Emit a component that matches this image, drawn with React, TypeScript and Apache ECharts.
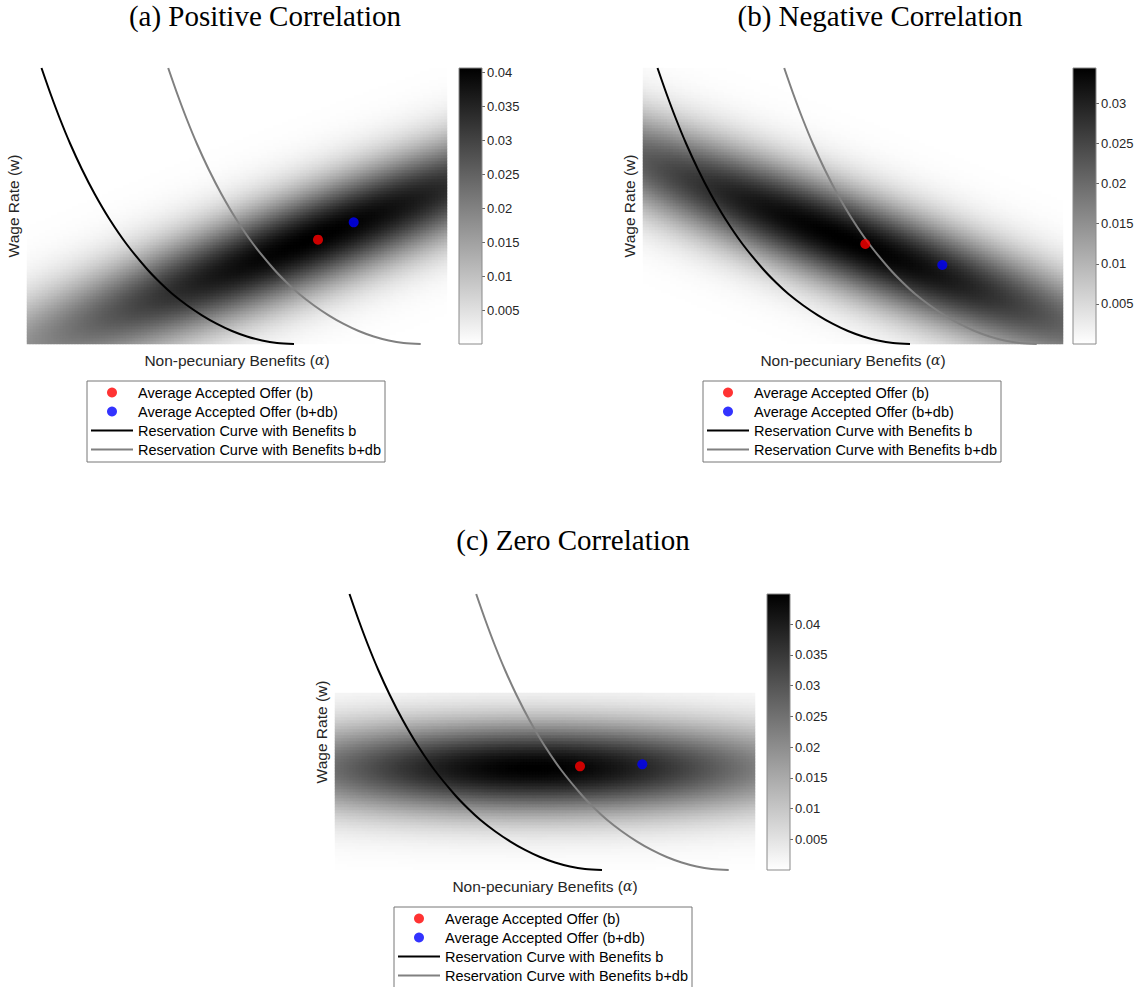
import { useEffect, useRef } from 'react';
import * as echarts from 'echarts';

// Panel captions and shared legend entries
const panelTitles = ['(a) Positive Correlation', '(b) Negative Correlation', '(c) Zero Correlation'];
const offerNameB = 'Average Accepted Offer (b)';
const offerNameBdb = 'Average Accepted Offer (b+db)';
const curveNameB = 'Reservation Curve with Benefits b';
const curveNameBdb = 'Reservation Curve with Benefits b+db';

// Axis extents: non-pecuniary benefits (alpha) and wage rate (w)
const alphaRange = [0, 42];
const wageRange = [0, 27.6];

// Offer density (bivariate normal) for each panel: a, b, c
const densityPeak = [0.0407, 0.0344, 0.0449];
const meanAlpha = [28.5, 20.5, 20];
const meanWage = [10.5, 10.4, 10.2];
const sdAlpha = [22, 22, 19];
const sdWage = [8.955, 9.1, 3.2];
const corr = [0.9157, -0.92, 0];
// highest wage covered by the density image in each panel
const imageTopWage = [27.6, 27.6, 17.7];

// Reservation curve with benefits b, points (alpha, w)
const curveB = [
  [1.45, 27.6], [2.36, 25], [3.3, 22.5], [4.33, 20], [5.48, 17.5], [6.77, 15],
  [8.24, 12.5], [9.95, 10], [12.0, 7.5], [13.3, 6.15], [14.55, 5.0], [16.0, 3.88],
  [17.5, 2.87], [19.0, 2.01], [20.5, 1.3], [22.0, 0.75], [23.5, 0.35], [25.0, 0.1],
  [26.7, 0],
];
// Reservation curve with benefits b+db
const curveBdb = [
  [14.12, 27.6], [15.03, 25], [15.97, 22.5], [17.0, 20], [18.15, 17.5], [19.44, 15],
  [20.91, 12.5], [22.62, 10], [24.67, 7.5], [25.97, 6.15], [27.22, 5.0], [28.67, 3.88],
  [30.17, 2.87], [31.67, 2.01], [33.17, 1.3], [34.67, 0.75], [36.17, 0.35], [37.67, 0.1],
  [39.37, 0],
];

// Average accepted offers per panel (alpha, w)
const offerB = [[29.1, 10.43], [22.23, 10.0], [24.5, 10.37]];
const offerBdb = [[32.67, 12.17], [29.93, 7.9], [30.73, 10.57]];

// Colorbar tick step
const colorbarStep = 0.005;

// ---- layout (pixels) ----
const PLOT_W = 420;
const PLOT_H = 276;
const NX = 140; // density image columns
const NY = 92; // density image rows
const plotPos = [
  { left: 27, top: 68 },
  { left: 643, top: 68 },
  { left: 335, top: 594 },
];
const cbarPos = [
  { left: 459, top: 68 },
  { left: 1073, top: 68 },
  { left: 767, top: 594 },
];
const titlePos = [
  { x: 265, y: 1 },
  { x: 880, y: 1 },
  { x: 573, y: 525 },
];
const legendPos = [
  { left: 87, top: 381 },
  { left: 703, top: 381 },
  { left: 394, top: 907 },
];

const SANS = 'Liberation Sans, Arial, Helvetica, sans-serif';
const AXIS_TEXT = '#262626';
const LINE_ICON = 'path://M0,0 L42,0 L42,2 L0,2 Z';

function densityCells(p: number) {
  const cells: number[][] = [];
  const cw = (alphaRange[1] - alphaRange[0]) / NX;
  const ch = (wageRange[1] - wageRange[0]) / NY;
  const r = corr[p];
  for (let j = 0; j < NY; j++) {
    const w = wageRange[0] + (j + 0.5) * ch;
    if (w > imageTopWage[p]) break;
    for (let i = 0; i < NX; i++) {
      const a = alphaRange[0] + (i + 0.5) * cw;
      const za = (a - meanAlpha[p]) / sdAlpha[p];
      const zw = (w - meanWage[p]) / sdWage[p];
      const q = (za * za - 2 * r * za * zw + zw * zw) / (1 - r * r);
      cells.push([i, j, densityPeak[p] * Math.exp(-q / 2)]);
    }
  }
  return cells;
}

function buildOption() {
  const idxX = Array.from({ length: NX }, (_, i) => i);
  const idxY = Array.from({ length: NY }, (_, i) => i);

  const grid: any[] = [];
  const xAxis: any[] = [];
  const yAxis: any[] = [];
  const series: any[] = [];
  const visualMap: any[] = [];

  // plot grids
  for (let p = 0; p < 3; p++) {
    grid.push({ left: plotPos[p].left, top: plotPos[p].top, width: PLOT_W, height: PLOT_H });
  }
  // colorbar grids
  for (let p = 0; p < 3; p++) {
    grid.push({
      left: cbarPos[p].left,
      top: cbarPos[p].top,
      width: 23,
      height: PLOT_H,
      show: true,
      borderColor: '#8a8a8a',
      borderWidth: 1,
      z: 5,
    });
  }

  const hidden = {
    axisLine: { show: false },
    axisTick: { show: false },
    axisLabel: { show: false },
    splitLine: { show: false },
  };

  for (let p = 0; p < 3; p++) {
    // category axes for the density image
    xAxis.push({ type: 'category', gridIndex: p, position: 'bottom', data: idxX, show: false });
    yAxis.push({ type: 'category', gridIndex: p, position: 'left', data: idxY, show: false });
    // value axes for curves and offers
    xAxis.push({
      type: 'value',
      gridIndex: p,
      position: 'bottom',
      min: alphaRange[0],
      max: alphaRange[1],
      ...hidden,
      name: 'Non-pecuniary Benefits ({a|α})',
      nameLocation: 'middle',
      nameGap: 8,
      nameTextStyle: {
        fontFamily: SANS,
        fontSize: 15.5,
        color: AXIS_TEXT,
        rich: {
          a: { fontFamily: 'DejaVu Serif', fontStyle: 'italic', fontSize: 14, color: AXIS_TEXT },
        },
      },
    });
    yAxis.push({
      type: 'value',
      gridIndex: p,
      position: 'left',
      min: wageRange[0],
      max: wageRange[1],
      ...hidden,
      name: 'Wage Rate (w)',
      nameLocation: 'middle',
      nameRotate: 90,
      nameGap: 6,
      nameTextStyle: { fontFamily: SANS, fontSize: 15.5, color: AXIS_TEXT },
    });
  }

  for (let p = 0; p < 3; p++) {
    xAxis.push({ type: 'category', gridIndex: 3 + p, data: ['density'], show: false });
    yAxis.push({
      type: 'value',
      gridIndex: 3 + p,
      min: 0,
      max: densityPeak[p],
      interval: colorbarStep,
      position: 'right',
      axisLine: { show: false },
      splitLine: { show: false },
      axisTick: { show: true, inside: false, length: 3, lineStyle: { color: '#666', width: 1 } },
      axisLabel: {
        margin: 5,
        fontSize: 13,
        fontFamily: SANS,
        color: AXIS_TEXT,
        showMinLabel: false,
        showMaxLabel: false,
        formatter: (v: number) => {
          const k = v / colorbarStep;
          if (v <= 0 || Math.abs(k - Math.round(k)) > 1e-6) return '';
          return String(+v.toFixed(3));
        },
      },
    });
  }

  for (let p = 0; p < 3; p++) {
    const heatIndex = series.length;
    series.push({
      type: 'heatmap',
      xAxisIndex: 2 * p,
      yAxisIndex: 2 * p,
      data: densityCells(p),
      progressive: 0,
      silent: true,
      emphasis: { disabled: true },
      itemStyle: { borderWidth: 0 },
      z: 1,
    });
    visualMap.push({
      type: 'continuous',
      show: false,
      seriesIndex: heatIndex,
      dimension: 2,
      min: 0,
      max: densityPeak[p],
      inRange: { color: ['#ffffff', '#000000'] },
    });
    series.push({
      type: 'line',
      name: curveNameB,
      xAxisIndex: 2 * p + 1,
      yAxisIndex: 2 * p + 1,
      data: curveB,
      symbol: 'none',
      smooth: 0.3,
      clip: true,
      silent: true,
      itemStyle: { color: '#000000' },
      lineStyle: { color: '#000000', width: 2 },
      z: 3,
    });
    series.push({
      type: 'line',
      name: curveNameBdb,
      xAxisIndex: 2 * p + 1,
      yAxisIndex: 2 * p + 1,
      data: curveBdb,
      symbol: 'none',
      smooth: 0.3,
      clip: true,
      silent: true,
      itemStyle: { color: '#808080' },
      lineStyle: { color: '#808080', width: 2 },
      z: 3,
    });
    series.push({
      type: 'scatter',
      name: offerNameB,
      xAxisIndex: 2 * p + 1,
      yAxisIndex: 2 * p + 1,
      data: [offerB[p]],
      symbol: 'circle',
      symbolSize: 10,
      silent: true,
      itemStyle: { color: '#ff0000' },
      z: 4,
    });
    series.push({
      type: 'scatter',
      name: offerNameBdb,
      xAxisIndex: 2 * p + 1,
      yAxisIndex: 2 * p + 1,
      data: [offerBdb[p]],
      symbol: 'circle',
      symbolSize: 10,
      silent: true,
      itemStyle: { color: '#0000ff' },
      z: 4,
    });
    // colorbar
    series.push({
      type: 'bar',
      xAxisIndex: 6 + p,
      yAxisIndex: 6 + p,
      data: [densityPeak[p]],
      barWidth: '100%',
      silent: true,
      itemStyle: {
        color: new echarts.graphic.LinearGradient(0, 0, 0, 1, [
          { offset: 0, color: '#000000' },
          { offset: 1, color: '#ffffff' },
        ]),
      },
      z: 2,
    });
  }

  const legend = legendPos.map((pos) => ({
    data: [
      { name: offerNameB, icon: 'circle' },
      { name: offerNameBdb, icon: 'circle' },
      { name: curveNameB, icon: LINE_ICON },
      { name: curveNameBdb, icon: LINE_ICON },
    ],
    orient: 'vertical',
    left: pos.left,
    top: pos.top,
    height: 100,
    itemWidth: 42,
    itemHeight: 10,
    itemGap: 0,
    padding: [2, 4, 3, 4],
    borderColor: '#777777',
    borderWidth: 1,
    selectedMode: false,
    symbolKeepAspect: true,
    textStyle: { fontFamily: SANS, fontSize: 14.5, color: '#000000', lineHeight: 19 },
  }));

  const title = panelTitles.map((t, p) => ({
    text: t,
    left: titlePos[p].x,
    top: titlePos[p].y,
    textAlign: 'center',
    padding: 0,
    textStyle: {
      fontFamily: 'Liberation Serif, Times New Roman, serif',
      fontSize: 29,
      fontWeight: 'normal',
      color: '#000000',
    },
  }));

  return {
    animation: false,
    backgroundColor: '#ffffff',
    title,
    legend,
    grid,
    xAxis,
    yAxis,
    visualMap,
    series,
  };
}

export default function App() {
  const ref = useRef<HTMLDivElement>(null);
  useEffect(() => {
    if (!ref.current) return;
    const chart = echarts.init(ref.current, undefined, { renderer: 'svg' });
    chart.setOption(buildOption() as any);
    return () => chart.dispose();
  }, []);
  return (
    <div
      ref={ref}
      style={{ position: 'absolute', left: 0, top: 0, width: 1143, height: 987 }}
    />
  );
}
